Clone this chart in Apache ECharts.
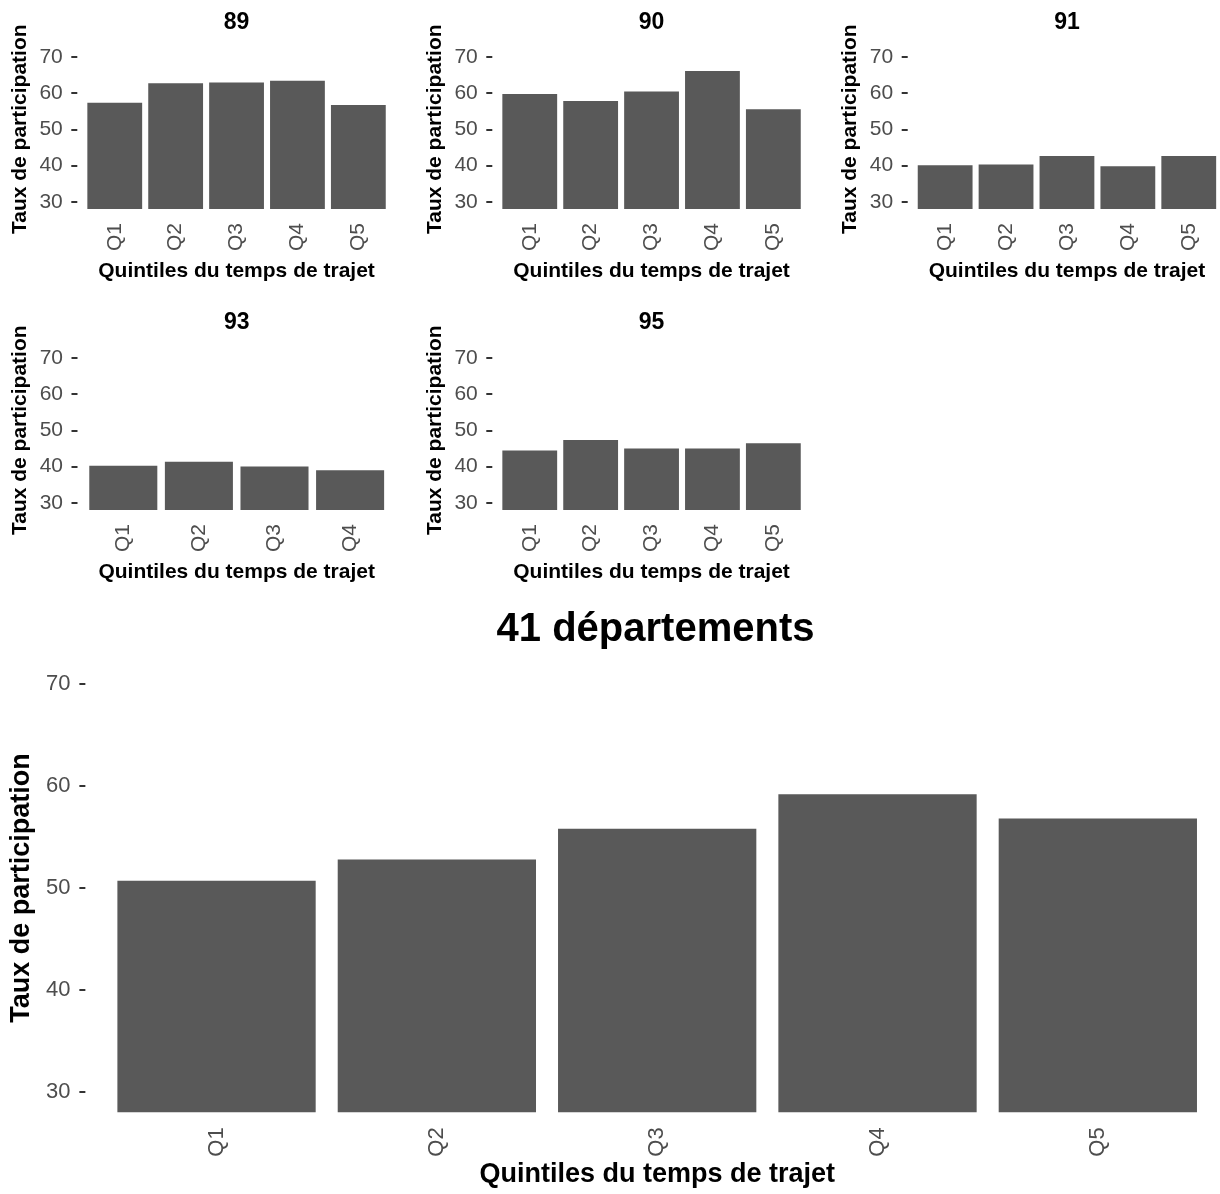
<!DOCTYPE html>
<html>

<head>
    <meta charset="utf-8">
    <title>Taux de participation</title>
    <script src="https://cdn.jsdelivr.net/npm/echarts@6/dist/echarts.min.js"></script>
    <style>
        body { margin: 0; background: #fff; }
    </style>
</head>

<body>
    <div id="main" style="width: 1220px;height:1194px;"></div>
    <script type="text/javascript">
        // categories
        var quintiles5 = ['Q1', 'Q2', 'Q3', 'Q4', 'Q5'];
        var quintiles4 = ['Q1', 'Q2', 'Q3', 'Q4'];
        var yTicks = [30, 40, 50, 60, 70];

        // valeurs
        var dep89 = [57.3, 62.7, 62.9, 63.4, 56.7];
        var dep90 = [59.7, 57.8, 60.4, 66.1, 55.5];
        var dep91 = [40.1, 40.3, 42.6, 39.8, 42.6];
        var dep93 = [40.2, 41.3, 40.0, 39.0];
        var dep95 = [44.4, 47.3, 45.0, 45.0, 46.4];
        var tous41 = [50.7, 52.8, 55.8, 59.2, 56.8];

        var FONT = 'Liberation Sans, Arial, sans-serif';
        var myChart = echarts.init(document.getElementById('main'));

        var grids = [], xAxes = [], yAxes = [], series = [], titles = [];

        function panel(name, cats, values, box, big) {
            var i = grids.length;
            grids.push({ left: box.left, top: box.top, width: box.width, height: box.height });
            titles.push({
                text: name, left: box.left + box.width / 2, top: box.titleTop,
                textAlign: 'center', padding: 0,
                textStyle: { fontFamily: FONT, fontWeight: 'bold', fontSize: big ? 40 : 23, color: '#000', lineHeight: big ? 40 : 24 }
            });
            xAxes.push({
                type: 'category', gridIndex: i, data: cats,
                axisLine: { show: false },
                axisTick: { alignWithLabel: true, length: 6, lineStyle: { color: '#333', width: 2 } },
                axisLabel: { rotate: 90, fontFamily: FONT, fontSize: big ? 22 : 21, color: '#4d4d4d', margin: big ? 15 : 14 },
                name: 'Quintiles du temps de trajet', nameLocation: 'middle', nameGap: big ? 47 : 52,
                nameTextStyle: { fontFamily: FONT, fontWeight: 'bold', fontSize: big ? 27 : 21, color: '#000' }
            });
            yAxes.push({
                type: 'value', gridIndex: i, min: 28, max: 72, offset: box.offset,
                splitLine: { show: false },
                axisLine: { show: false },
                axisTick: { show: true, customValues: yTicks, length: 6, lineStyle: { color: '#333', width: 2 } },
                axisLabel: { customValues: yTicks, fontFamily: FONT, fontSize: big ? 22 : 21, color: '#4d4d4d', margin: big ? 15 : 14.5 },
                name: 'Taux de participation', nameLocation: 'middle', nameGap: big ? 48 : 47,
                nameTextStyle: { fontFamily: FONT, fontWeight: 'bold', fontSize: big ? 27 : 21, color: '#000' }
            });
            series.push({
                type: 'bar', xAxisIndex: i, yAxisIndex: i, data: values,
                barCategoryGap: '10%',
                itemStyle: { color: '#595959' },
                silent: true
            });
        }

        panel('89', quintiles5, dep89, { left: 84.3, top: 49.5, width: 304.5, height: 159.5, offset: 7, titleTop: 11 });
        panel('90', quintiles5, dep90, { left: 499.3, top: 49.5, width: 304.5, height: 159.5, offset: 7, titleTop: 11 });
        panel('91', quintiles5, dep91, { left: 914.7, top: 49.5, width: 304.5, height: 159.5, offset: 7, titleTop: 11 });
        panel('93', quintiles4, dep93, { left: 85.5, top: 350.5, width: 302.4, height: 159.5, offset: 8, titleTop: 311 });
        panel('95', quintiles5, dep95, { left: 499.3, top: 350.5, width: 304.5, height: 159.5, offset: 7, titleTop: 311 });
        panel('41 départements', quintiles5, tous41, { left: 103, top: 663.6, width: 1105, height: 448.7, offset: 21, titleTop: 610 }, true);

        var option = {
            animation: false,
            backgroundColor: '#fff',
            title: titles,
            grid: grids,
            xAxis: xAxes,
            yAxis: yAxes,
            series: series
        };

        myChart.setOption(option);
    </script>
</body>

</html>
